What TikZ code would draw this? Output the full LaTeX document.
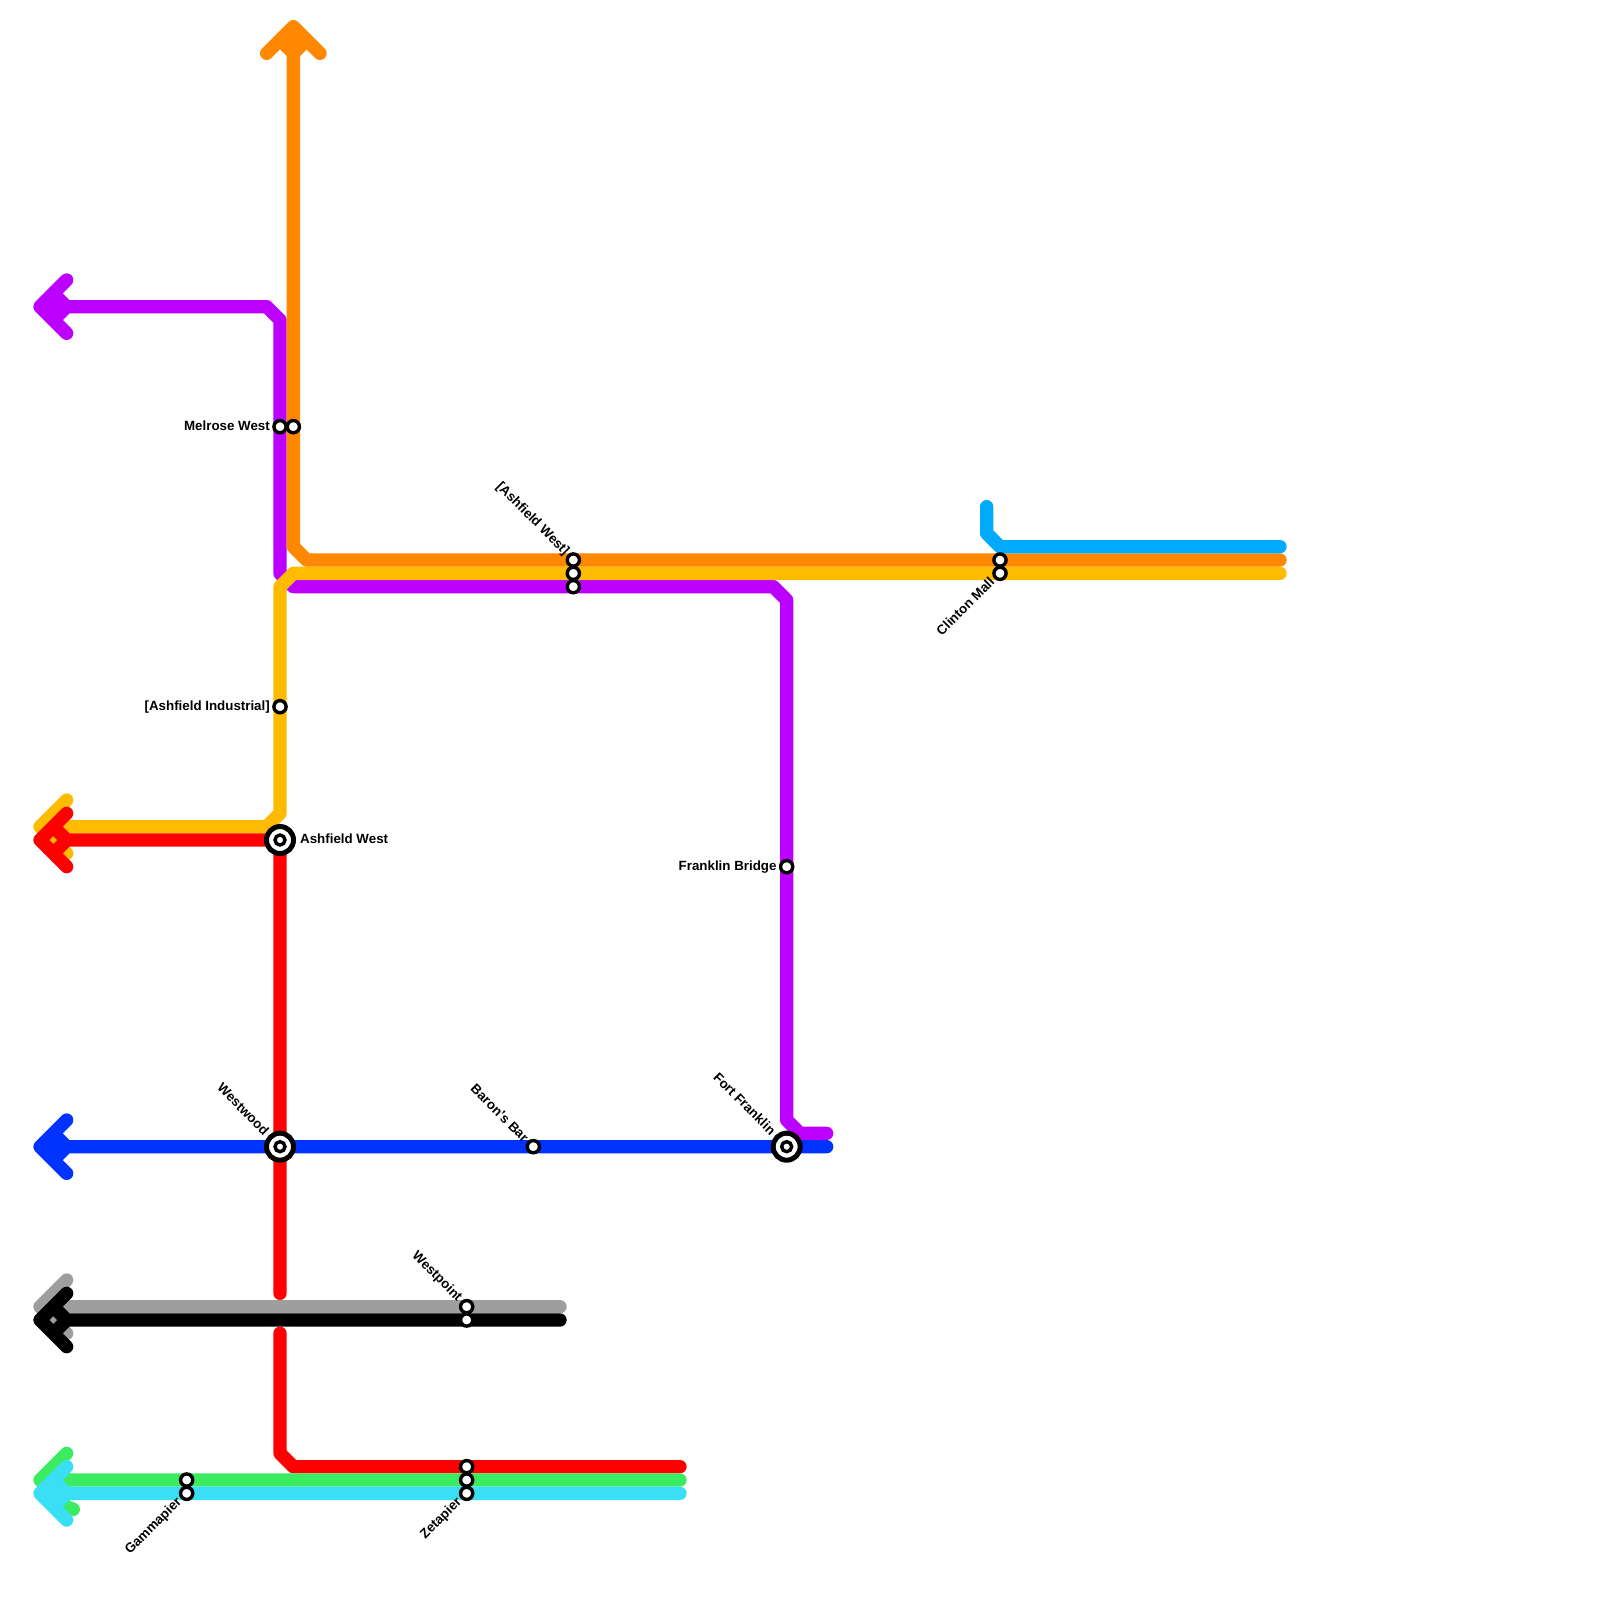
\documentclass[tikz,border=0pt]{standalone}
\usepackage{fontspec}
\setmainfont{Liberation Sans}
\definecolor{cOrange}{HTML}{FF8800}
\definecolor{cYellow}{HTML}{FFBB00}
\definecolor{cPurple}{HTML}{BB00FF}
\definecolor{cRed}{HTML}{FF0000}
\definecolor{cBlue}{HTML}{0033FF}
\definecolor{cGray}{HTML}{9E9E9E}
\definecolor{cGreen}{HTML}{3BEB60}
\definecolor{cCyan}{HTML}{3BDFF5}
\definecolor{cSky}{HTML}{00AAFF}
\tikzset{
  route/.style={line width=13.333pt,line cap=round,line join=round},
  stn/.style={circle,draw=black,fill=white,line width=3.4pt,minimum size=12.2pt,inner sep=0pt},
  bigstn/.style={circle,draw=black,fill=white,line width=5pt,minimum size=27pt,inner sep=0pt},
  bigdot/.style={circle,draw=black,fill=white,line width=3.4pt,minimum size=10pt,inner sep=0pt},
  lbl/.style={font=\bfseries\fontsize{13.33}{16}\selectfont,text=black,inner sep=0pt},
}
\begin{document}
\begin{tikzpicture}[x=13.3333pt,y=-13.3333pt]
\useasboundingbox (0,0) rectangle (120,120);
% way points
\foreach \n/\x/\y in {
 oT/22/2,oL/20/4,oR/24/4,oP/21/3,oQ/23/3,oS/22/4,oA/22/41,oB/23/42,oE/96/42,
 pT/3/23,pU/5/21,pD/5/25,pP/4/22,pQ/4/24,pS/5/23,pA/20/23,pB/21/24,pC/21/43,pF/22/44,pG/58/44,pH/59/45,pI/59/84,pJ/60/85,pE/62/85,
 yT/3/62,yU/5/60,yD/5/64,yP/4/61,yQ/4/63,yS/5/62,yA/20/62,yB/21/61,yC/21/44,yF/22/43,yE/96/43,
 rT/3/63,rU/5/61,rD/5/65,rP/4/62,rQ/4/64,rS/5/63,rA/21/63,rB/21/97,rC/21/100,rF/21/109,rG/22/110,rE/51/110,
 bT/3/86,bU/5/84,bD/5/88,bP/4/85,bQ/4/87,bS/5/86,bE/62/86,
 gT/3/98,gU/5/96,gD/5/100,gP/4/97,gQ/4/99,gS/5/98,gE/42/98,
 kT/3/99,kU/5/97,kD/5/101,kP/4/98,kQ/4/100,kS/5/99,kE/42/99,
 nT/3/111,nU/5/109,nD/5/113,nX/5.5/113.2,nP/4/110,nQ/4/112,nS/5/111,nE/51/111,
 cT/3/112,cU/5/110,cD/5/114,cP/4/111,cQ/4/113,cS/5/112,cE/51/112,
 sA/74/38,sB/74/40,sC/75/41,sE/96/41,
 mw1/21/32,mw2/22/32,aw1/43/42,aw2/43/43,aw3/43/44,cm1/75/42,cm2/75/43,
 ai/21/53,awb/21/63,fb/59/65,wwd/21/86,bb/40/86,ff/59/86,
 wp1/35/98,wp2/35/99,zp1/35/110,zp2/35/111,zp3/35/112,gp1/14/111,gp2/14/112}
 {\coordinate (\n) at (\x,\y);}
% routes
\draw[route,cGray] (gU)--(gT)--(gD) (gP)--(gS)--(gQ) (gT)--(gE);
\draw[route,black] (kU)--(kT)--(kD) (kP)--(kS)--(kQ) (kS)--(kE);
\draw[route,cPurple] (pU)--(pT)--(pD) (pP)--(pS)--(pQ) (pT)--(pA)--(pB)--(pC)--(pF)--(pG)--(pH)--(pI)--(pJ)--(pE);
\draw[route,cYellow] (yU)--(yT)--(yD) (yP)--(yS)--(yQ) (yT)--(yA)--(yB)--(yC)--(yF)--(yE);
\draw[route,cRed] (rU)--(rT)--(rD) (rP)--(rS)--(rQ) (rS)--(rA)--(rB) (rC)--(rF)--(rG)--(rE);
\draw[route,cOrange] (oL)--(oT)--(oR) (oP)--(oS)--(oQ) (oT)--(oA)--(oB)--(oE);
\draw[route,cBlue] (bU)--(bT)--(bD) (bP)--(bS)--(bQ) (bT)--(bE);
\draw[route,cGreen] (nU)--(nT)--(nD)--(nX) (nP)--(nS)--(nQ) (nT)--(nE);
\draw[route,cCyan] (cU)--(cT)--(cD) (cP)--(cS)--(cQ) (cT)--(cE);
\draw[route,cSky] (sA)--(sB)--(sC)--(sE);
% stations
\foreach \s in {mw1,mw2,aw1,aw2,aw3,cm1,cm2,ai,fb,bb,wp1,wp2,zp1,zp2,zp3,gp1,gp2}
 {\node[stn] (st\s) at (\s) {};}
\foreach \s in {awb,wwd,ff}
 {\node[bigstn] (st\s) at (\s) {};\node[bigdot] (dot\s) at (\s) {};}
% labels
\node[lbl,anchor=east] (lmw) at ([xshift=-10pt,yshift=1pt]mw1) {Melrose West};
\node[lbl,anchor=east] (lai) at ([xshift=-10pt]ai) {[Ashfield Industrial]};
\node[lbl,anchor=west] (law) at ([xshift=20pt,yshift=1pt]awb) {Ashfield West};
\node[lbl,anchor=east] (lfb) at ([xshift=-10pt]fb) {Franklin Bridge};
\node[lbl,anchor=east,rotate=-45] (lawt) at ([xshift=-6.5pt,yshift=6.5pt]aw1) {[Ashfield West]};
\node[lbl,anchor=east,rotate=45] (lcm) at ([xshift=-8pt,yshift=-6pt]cm2) {Clinton Mall};
\node[lbl,anchor=east,rotate=-45] (lww) at ([xshift=-13pt,yshift=14pt]wwd) {Westwood};
\node[lbl,anchor=east,rotate=-45] (lbb) at ([xshift=-7pt,yshift=7pt]bb) {Baron's Bar};
\node[lbl,anchor=east,rotate=-45] (lff) at ([xshift=-13pt,yshift=14pt]ff) {Fort Franklin};
\node[lbl,anchor=east,rotate=-45] (lwp) at ([xshift=-7pt,yshift=7pt]wp1) {Westpoint};
\node[lbl,anchor=east,rotate=45] (lzp) at ([xshift=-7pt,yshift=-7pt]zp3) {Zetapier};
\node[lbl,anchor=east,rotate=45] (lgp) at ([xshift=-7pt,yshift=-7pt]gp2) {Gammapier};
\end{tikzpicture}
\end{document}
